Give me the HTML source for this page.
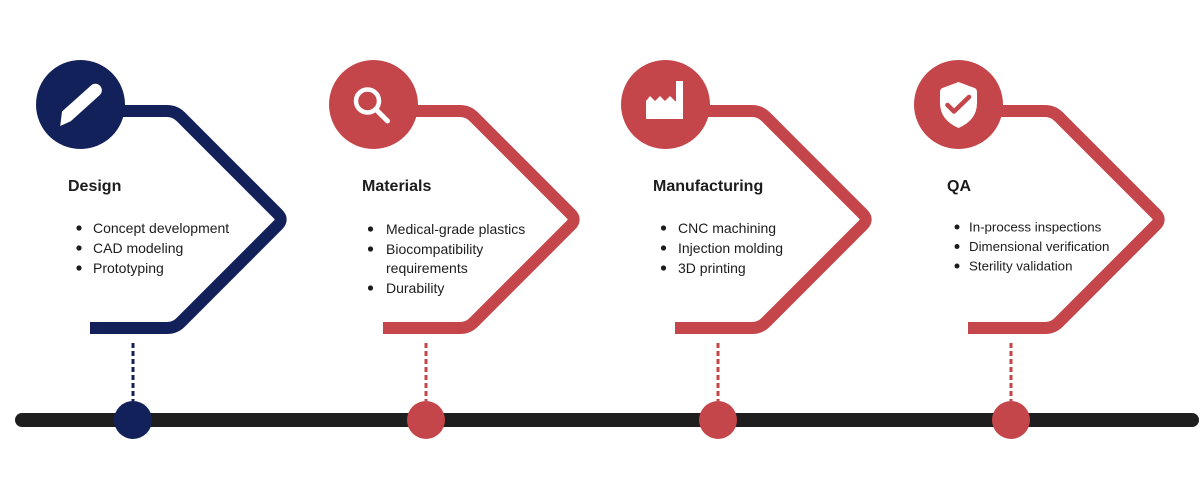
<!DOCTYPE html>
<html>
<head>
<meta charset="utf-8">
<style>
  html,body{margin:0;padding:0;background:#fff;}
  body{width:1200px;height:500px;overflow:hidden;}
  svg{display:block;}
  text{font-family:"Liberation Sans",Arial,sans-serif;fill:#1c1c1c;}
  .t{font-size:16px;font-weight:bold;}
  .b{font-size:14px;}
  .q{font-size:13.3px;}
</style>
</head>
<body>
<svg width="1200" height="500" viewBox="0 0 1200 500" xmlns="http://www.w3.org/2000/svg">
  <!-- timeline -->
  <line x1="22" y1="420" x2="1192" y2="420" stroke="#1e1e1e" stroke-width="14" stroke-linecap="round"/>

  <!-- ===== Design ===== -->
  <g transform="translate(80.5,0)">
    <path d="M40,111 L86.5,111 Q94.5,111 100.16,116.66 L197.34,213.84 Q203,219.5 197.34,225.16 L100.16,322.34 Q94.5,328 86.5,328 L9.5,328" fill="none" stroke="#13215a" stroke-width="12" stroke-linejoin="round"/>
    <circle cx="0" cy="104.5" r="44.5" fill="#13215a"/>
    <g transform="translate(-1.5,105) rotate(-42)">
      <path d="M-28,3 L-17,-6.5 L22,-6.5 A6.5,6.5 0 0 1 22,6.5 L-17,6.5 Z" fill="#fff"/>
    </g>
    <line x1="52.5" y1="343" x2="52.5" y2="401" stroke="#13215a" stroke-width="3" stroke-dasharray="5,3"/>
    <circle cx="52.5" cy="420" r="19" fill="#13215a"/>
    <text class="t" x="-12.5" y="191">Design</text>
    <circle cx="-1.5" cy="228" r="2.6" fill="#1c1c1c"/>
    <circle cx="-1.5" cy="248" r="2.6" fill="#1c1c1c"/>
    <circle cx="-1.5" cy="268" r="2.6" fill="#1c1c1c"/>
    <text class="b" x="12.5" y="233">Concept development</text>
    <text class="b" x="12.5" y="253">CAD modeling</text>
    <text class="b" x="12.5" y="273">Prototyping</text>
  </g>

  <!-- ===== Materials ===== -->
  <g transform="translate(373.5,0)">
    <path d="M40,111 L86.5,111 Q94.5,111 100.16,116.66 L197.34,213.84 Q203,219.5 197.34,225.16 L100.16,322.34 Q94.5,328 86.5,328 L9.5,328" fill="none" stroke="#c4464a" stroke-width="12" stroke-linejoin="round"/>
    <circle cx="0" cy="104.5" r="44.5" fill="#c4464a"/>
    <circle cx="-6" cy="101" r="11.5" fill="none" stroke="#fff" stroke-width="4.5"/>
    <line x1="3" y1="110" x2="14" y2="121" stroke="#fff" stroke-width="5" stroke-linecap="round"/>
    <line x1="52.5" y1="343" x2="52.5" y2="401" stroke="#c4464a" stroke-width="3" stroke-dasharray="5,3"/>
    <circle cx="52.5" cy="420" r="19" fill="#c4464a"/>
    <text class="t" x="-11.5" y="191">Materials</text>
    <circle cx="-3" cy="229" r="2.6" fill="#1c1c1c"/>
    <circle cx="-3" cy="249" r="2.6" fill="#1c1c1c"/>
    <circle cx="-3" cy="288" r="2.6" fill="#1c1c1c"/>
    <text class="b" x="12.5" y="234">Medical-grade plastics</text>
    <text class="b" x="12.5" y="254">Biocompatibility</text>
    <text class="b" x="12.5" y="273">requirements</text>
    <text class="b" x="12.5" y="293">Durability</text>
  </g>

  <!-- ===== Manufacturing ===== -->
  <g transform="translate(665.5,0)">
    <path d="M40,111 L86.5,111 Q94.5,111 100.16,116.66 L197.34,213.84 Q203,219.5 197.34,225.16 L100.16,322.34 Q94.5,328 86.5,328 L9.5,328" fill="none" stroke="#c4464a" stroke-width="12" stroke-linejoin="round"/>
    <circle cx="0" cy="104.5" r="44.5" fill="#c4464a"/>
    <polygon points="-19.5,119 -19.5,101 -15.5,96 -10.5,101 -5.5,96 -0.5,101 4.5,96 9.5,101 10.5,101 10.5,81 17.5,81 17.5,119" fill="#fff"/>
    <line x1="52.5" y1="343" x2="52.5" y2="401" stroke="#c4464a" stroke-width="3" stroke-dasharray="5,3"/>
    <circle cx="52.5" cy="420" r="19" fill="#c4464a"/>
    <text class="t" x="-12.5" y="191">Manufacturing</text>
    <circle cx="-2" cy="228" r="2.6" fill="#1c1c1c"/>
    <circle cx="-2" cy="248" r="2.6" fill="#1c1c1c"/>
    <circle cx="-2" cy="268" r="2.6" fill="#1c1c1c"/>
    <text class="b" x="12.5" y="233">CNC machining</text>
    <text class="b" x="12.5" y="253">Injection molding</text>
    <text class="b" x="12.5" y="273">3D printing</text>
  </g>

  <!-- ===== QA ===== -->
  <g transform="translate(958.5,0)">
    <path d="M40,111 L86.5,111 Q94.5,111 100.16,116.66 L197.34,213.84 Q203,219.5 197.34,225.16 L100.16,322.34 Q94.5,328 86.5,328 L9.5,328" fill="none" stroke="#c4464a" stroke-width="12" stroke-linejoin="round"/>
    <circle cx="0" cy="104.5" r="44.5" fill="#c4464a"/>
    <path d="M0,82 L16,88 Q18.5,89 18.5,92 L18.5,103 Q18.5,120 0,128 Q-18.5,120 -18.5,103 L-18.5,92 Q-18.5,89 -16,88 Z" fill="#fff"/>
    <polyline points="-11,105 -4.5,111.5 10.5,97" fill="none" stroke="#c4464a" stroke-width="4.5" stroke-linecap="round" stroke-linejoin="round"/>
    <line x1="52.5" y1="343" x2="52.5" y2="401" stroke="#c4464a" stroke-width="3" stroke-dasharray="5,3"/>
    <circle cx="52.5" cy="420" r="19" fill="#c4464a"/>
    <text class="t" x="-11.5" y="191">QA</text>
    <circle cx="-1.5" cy="227" r="2.5" fill="#1c1c1c"/>
    <circle cx="-1.5" cy="246.5" r="2.5" fill="#1c1c1c"/>
    <circle cx="-1.5" cy="266" r="2.5" fill="#1c1c1c"/>
    <text class="q" x="10.5" y="231.5">In-process inspections</text>
    <text class="q" x="10.5" y="251">Dimensional verification</text>
    <text class="q" x="10.5" y="270.5">Sterility validation</text>
  </g>
</svg>
</body>
</html>
